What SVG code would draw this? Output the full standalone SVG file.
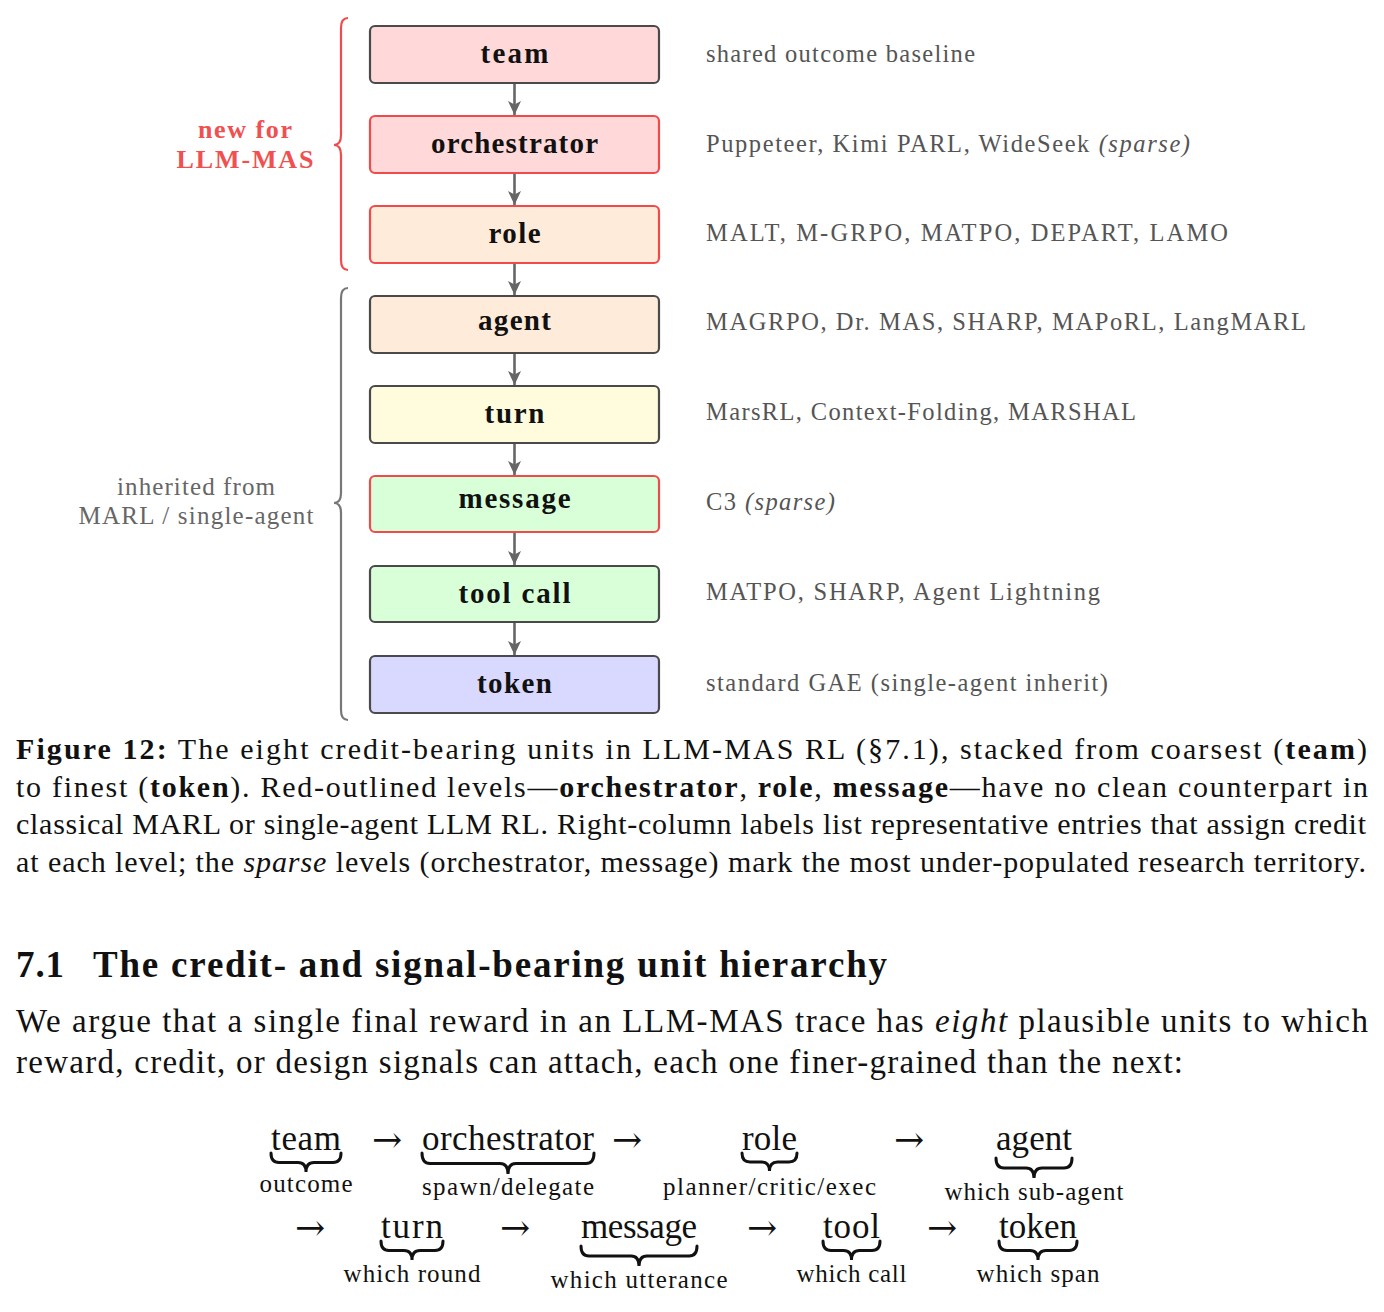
<svg xmlns="http://www.w3.org/2000/svg" width="1384" height="1312" viewBox="0 0 1384 1312">
<style>
.box{stroke-width:2.2}
.dk{stroke:#4a4a4a}
.rd{stroke:#F04A4A}
.bl{font-family:"Liberation Serif","Times New Roman",serif;font-weight:bold;font-size:29px;fill:#111;text-anchor:middle}
.rl{font-family:"Liberation Serif","Times New Roman",serif;font-size:24.5px;fill:#555}
.cap{font-family:"Liberation Serif","Times New Roman",serif;font-size:30px;fill:#111}
.body{font-family:"Liberation Serif","Times New Roman",serif;font-size:33px;fill:#111}
.eq{font-family:"Liberation Serif","Times New Roman",serif;font-size:35px;fill:#111;text-anchor:middle}
.ar{font-family:"DejaVu Serif",serif;font-size:36px;fill:#111;text-anchor:middle}
.lab{font-family:"Liberation Serif","Times New Roman",serif;font-size:25px;fill:#111;text-anchor:middle}
.brace{fill:none;stroke:#111;stroke-width:3;stroke-linecap:round}
.conn{stroke:#666;stroke-width:2.6;fill:none}
</style>
<defs>
<marker id="ah" viewBox="0 0 14 14" refX="14" refY="7" markerWidth="14" markerHeight="14" markerUnits="userSpaceOnUse" orient="auto">
<path d="M0,0.5 L14,7 L0,13.5 L3.5,7 z" fill="#666"/>
</marker>
</defs>

<g id="brace-new">
<path d="M348,18 Q341,18 341,28 L341,135 Q341,145 334,145 Q341,145 341,155 L341,260 Q341,270 348,270" fill="none" stroke="#F04A4A" stroke-width="2.2"/>
<text x="245" y="138" font-family="Liberation Serif, serif" font-weight="bold" font-size="26" fill="#F05050" text-anchor="middle" textLength="94">new for</text>
<text x="245" y="168" font-family="Liberation Serif, serif" font-weight="bold" font-size="26" fill="#F05050" text-anchor="middle" textLength="137">LLM-MAS</text>
</g>
<g id="brace-inherited">
<path d="M348,288 Q341,288 341,298 L341,493 Q341,503 334,503 Q341,503 341,513 L341,710 Q341,720 348,720" fill="none" stroke="#777" stroke-width="2.2"/>
<text x="196" y="495" font-family="Liberation Serif, serif" font-size="25" fill="#666" text-anchor="middle" textLength="158">inherited from</text>
<text x="196" y="524" font-family="Liberation Serif, serif" font-size="25" fill="#666" text-anchor="middle" textLength="235">MARL / single-agent</text>
</g>

<g id="connectors">
<line class="conn" x1="514.5" y1="84" x2="514.5" y2="115" marker-end="url(#ah)"/>
<line class="conn" x1="514.5" y1="174" x2="514.5" y2="205" marker-end="url(#ah)"/>
<line class="conn" x1="514.5" y1="264" x2="514.5" y2="295" marker-end="url(#ah)"/>
<line class="conn" x1="514.5" y1="354" x2="514.5" y2="385" marker-end="url(#ah)"/>
<line class="conn" x1="514.5" y1="444" x2="514.5" y2="475" marker-end="url(#ah)"/>
<line class="conn" x1="514.5" y1="533" x2="514.5" y2="565" marker-end="url(#ah)"/>
<line class="conn" x1="514.5" y1="623" x2="514.5" y2="655" marker-end="url(#ah)"/>
</g>

<g id="node-team">
<rect class="box dk" x="370" y="26" width="289" height="57" rx="5" fill="#FFD9D9"/>
<text class="bl" x="514.5" y="63" textLength="68">team</text>
<text class="rl" x="706" y="62" textLength="269">shared outcome baseline</text>
</g>
<g id="node-orchestrator">
<rect class="box rd" x="370" y="116" width="289" height="57" rx="5" fill="#FFD9D9"/>
<text class="bl" x="514.5" y="153" textLength="167">orchestrator</text>
<text class="rl" x="706" y="152" textLength="484">Puppeteer, Kimi PARL, WideSeek <tspan font-style="italic">(sparse)</tspan></text>
</g>
<g id="node-role">
<rect class="box rd" x="370" y="206" width="289" height="57" rx="5" fill="#FFEBD9"/>
<text class="bl" x="514.5" y="243" textLength="52">role</text>
<text class="rl" x="706" y="241" textLength="522">MALT, M-GRPO, MATPO, DEPART, LAMO</text>
</g>
<g id="node-agent">
<rect class="box dk" x="370" y="296" width="289" height="57" rx="5" fill="#FFEBD9"/>
<text class="bl" x="514.5" y="330" textLength="73">agent</text>
<text class="rl" x="706" y="330" textLength="600">MAGRPO, Dr. MAS, SHARP, MAPoRL, LangMARL</text>
</g>
<g id="node-turn">
<rect class="box dk" x="370" y="386" width="289" height="57" rx="5" fill="#FFFBDD"/>
<text class="bl" x="514.5" y="423" textLength="60">turn</text>
<text class="rl" x="706" y="420" textLength="430">MarsRL, Context-Folding, MARSHAL</text>
</g>
<g id="node-message">
<rect class="box rd" x="370" y="476" width="289" height="56" rx="5" fill="#D9FFD9"/>
<text class="bl" x="514.5" y="508" textLength="112">message</text>
<text class="rl" x="706" y="510" textLength="129">C3 <tspan font-style="italic">(sparse)</tspan></text>
</g>
<g id="node-toolcall">
<rect class="box dk" x="370" y="566" width="289" height="56" rx="5" fill="#D9FFD9"/>
<text class="bl" x="514.5" y="603" textLength="112">tool call</text>
<text class="rl" x="706" y="600" textLength="394">MATPO, SHARP, Agent Lightning</text>
</g>
<g id="node-token">
<rect class="box dk" x="370" y="656" width="289" height="57" rx="5" fill="#D9D9FF"/>
<text class="bl" x="514.5" y="693" textLength="75">token</text>
<text class="rl" x="706" y="691" textLength="402">standard GAE (single-agent inherit)</text>
</g>

<g id="caption">
<text class="cap" x="16" y="759" textLength="1351"><tspan font-weight="bold">Figure 12:</tspan> The eight credit-bearing units in LLM-MAS RL (§7.1), stacked from coarsest (<tspan font-weight="bold">team</tspan>)</text>
<text class="cap" x="16" y="797" textLength="1352">to finest (<tspan font-weight="bold">token</tspan>). Red-outlined levels—<tspan font-weight="bold">orchestrator</tspan>, <tspan font-weight="bold">role</tspan>, <tspan font-weight="bold">message</tspan>—have no clean counterpart in</text>
<text class="cap" x="16" y="834" textLength="1350">classical MARL or single-agent LLM RL. Right-column labels list representative entries that assign credit</text>
<text class="cap" x="16" y="872" textLength="1350">at each level; the <tspan font-style="italic">sparse</tspan> levels (orchestrator, message) mark the most under-populated research territory.</text>
</g>

<g id="heading">
<text x="16" y="977" font-family="Liberation Serif, serif" font-weight="bold" font-size="37" fill="#111" textLength="48">7.1</text>
<text x="93" y="977" font-family="Liberation Serif, serif" font-weight="bold" font-size="37" fill="#111" textLength="794">The credit- and signal-bearing unit hierarchy</text>
</g>

<g id="body">
<text class="body" x="16" y="1032" textLength="1352">We argue that a single final reward in an LLM-MAS trace has <tspan font-style="italic">eight</tspan> plausible units to which</text>
<text class="body" x="16" y="1073" textLength="1167">reward, credit, or design signals can attach, each one finer-grained than the next:</text>
</g>

<g id="equation">
<text class="eq" x="306" y="1150" textLength="70">team</text>
<text class="ar" x="387" y="1152">→</text>
<text class="eq" x="508" y="1150" textLength="172">orchestrator</text>
<text class="ar" x="627" y="1152">→</text>
<text class="eq" x="769.5" y="1150" textLength="55">role</text>
<text class="ar" x="909" y="1152">→</text>
<text class="eq" x="1034" y="1150" textLength="76">agent</text>
<path class="brace" d="M271,1153 Q271,1162.5 279,1162.5 L298,1162.5 Q306,1162.5 306,1172 Q306,1162.5 314,1162.5 L333,1162.5 Q341,1162.5 341,1153"/>
<path class="brace" d="M422,1153 Q422,1163.5 430,1163.5 L500,1163.5 Q508,1163.5 508,1174 Q508,1163.5 516,1163.5 L586,1163.5 Q594,1163.5 594,1153"/>
<path class="brace" d="M742,1153 Q742,1162 750,1162 L761.5,1162 Q769.5,1162 769.5,1171 Q769.5,1162 777.5,1162 L789,1162 Q797,1162 797,1153"/>
<path class="brace" d="M996,1158 Q996,1168 1004,1168 L1026,1168 Q1034,1168 1034,1178 Q1034,1168 1042,1168 L1064,1168 Q1072,1168 1072,1158"/>
<text class="lab" x="306" y="1192" textLength="93">outcome</text>
<text class="lab" x="508" y="1195" textLength="172">spawn/delegate</text>
<text class="lab" x="769.5" y="1195" textLength="213">planner/critic/exec</text>
<text class="lab" x="1034" y="1200" textLength="179">which sub-agent</text>

<text class="ar" x="310" y="1240">→</text>
<text class="eq" x="412" y="1238" textLength="62">turn</text>
<text class="ar" x="515" y="1240">→</text>
<text class="eq" x="639" y="1238" textLength="116">message</text>
<text class="ar" x="762" y="1240">→</text>
<text class="eq" x="851.5" y="1238" textLength="57">tool</text>
<text class="ar" x="942" y="1240">→</text>
<text class="eq" x="1038" y="1238" textLength="78">token</text>
<path class="brace" d="M381,1241 Q381,1250.5 389,1250.5 L404,1250.5 Q412,1250.5 412,1260 Q412,1250.5 420,1250.5 L435,1250.5 Q443,1250.5 443,1241"/>
<path class="brace" d="M581,1246 Q581,1256 589,1256 L631,1256 Q639,1256 639,1266 Q639,1256 647,1256 L689,1256 Q697,1256 697,1246"/>
<path class="brace" d="M823,1241 Q823,1250.5 831,1250.5 L843.5,1250.5 Q851.5,1250.5 851.5,1260 Q851.5,1250.5 859.5,1250.5 L872,1250.5 Q880,1250.5 880,1241"/>
<path class="brace" d="M999,1241 Q999,1250.5 1007,1250.5 L1030,1250.5 Q1038,1250.5 1038,1260 Q1038,1250.5 1046,1250.5 L1069,1250.5 Q1077,1250.5 1077,1241"/>
<text class="lab" x="412" y="1282" textLength="137">which round</text>
<text class="lab" x="639" y="1288" textLength="177">which utterance</text>
<text class="lab" x="851.5" y="1282" textLength="110">which call</text>
<text class="lab" x="1038" y="1282" textLength="123">which span</text>
</g>
</svg>
